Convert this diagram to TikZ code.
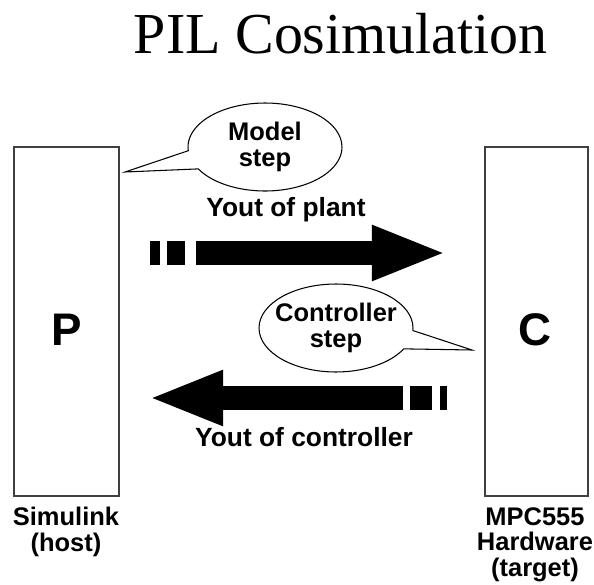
\documentclass[tikz,border=0pt]{standalone}
\usepackage{fontspec}
\setmainfont{Liberation Serif}
\setsansfont{Liberation Sans}
\usetikzlibrary{arrows.meta,shapes.callouts}

\begin{document}
\begin{tikzpicture}[
    x=0.02cm, y=-0.02cm,
    block/.style={draw=black!75, line width=0.8pt, minimum height=6.98cm},
    letter/.style={font=\sffamily\bfseries\fontsize{26}{28}\selectfont},
    label text/.style={font=\sffamily\bfseries\fontsize{14.5}{14.5}\selectfont, align=center, inner sep=0pt},
    arrow text/.style={font=\sffamily\bfseries\fontsize{15}{15}\selectfont, inner sep=0pt},
    balloon/.style={ellipse callout, draw, line width=0.6pt, callout pointer arc=25,
        minimum width=3.08cm, minimum height=1.76cm, align=center, inner xsep=-4pt, inner ysep=0pt,
        font=\sffamily\bfseries\fontsize{14.5}{14.5}\selectfont},
    fat arrow/.style={line width=13.7pt, -{Triangle[length=42.7pt, width=28.5pt]}}
]
\useasboundingbox (0,0) rectangle (594,584);

% Title
\node[anchor=base east, font=\fontsize{33}{36}\selectfont] (title) at (554,54) {PIL Cosimulation};

% Host and target blocks
\node[block, minimum width=2.1cm] (host) at (66.5,321.5) {};
\node[block, minimum width=2.06cm] (target) at (536.5,321.5) {};
\node[letter] (p) at (67,330) {P};
\node[letter] (c) at (535,330) {C};

% Names under the blocks
\node[label text, anchor=north] (host name) at (66,507) {Simulink\\(host)};
\node[label text, anchor=north] (target name) at (535,507) {MPC555\\Hardware\\(target)};

% Arrow from plant to controller
\coordinate (plant start) at (150,253);
\coordinate (plant end) at (447,253);
\draw[fat arrow, dash pattern=on 5.7pt off 4pt on 10.2pt off 6.3pt on 400pt] (plant start) -- (plant end);
\node[arrow text] (plant label) at (286,210) {Yout of plant};

% Arrow from controller to plant
\coordinate (ctrl start) at (447,398);
\coordinate (ctrl end) at (148,398);
\draw[fat arrow, dash pattern=on 4pt off 4.55pt on 12.5pt off 4pt on 400pt] (ctrl start) -- (ctrl end);
\node[arrow text] (ctrl label) at (304,437) {Yout of controller};

% Balloons
\coordinate (model tip) at (125,172);
\coordinate (ctrl tip) at (472,350);
\node[balloon, callout absolute pointer={(model tip)}] (model step) at (265,147) {Model\\step};
\node[balloon, callout absolute pointer={(ctrl tip)}] (ctrl step) at (336,328) {Controller\\step};

\end{tikzpicture}
\end{document}
